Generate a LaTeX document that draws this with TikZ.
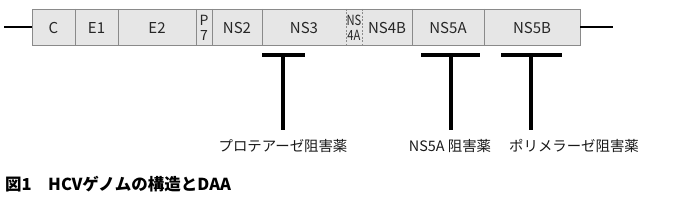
\documentclass[tikz,border=0pt]{standalone}
\usepackage{fontspec}
\setmainfont{Noto Sans CJK JP}
\definecolor{segfill}{HTML}{E6E6E6}
\definecolor{segline}{HTML}{8A8A8A}
\begin{document}
\begin{tikzpicture}[x=1pt,y=-1pt,
  seglabel/.style={font=\fontsize{15}{15}\selectfont, inner sep=0pt, text=black!85},
  smalllabel/.style={font=\fontsize{14}{14}\selectfont, inner sep=0pt, text=black!85},
  druglabel/.style={font=\fontsize{14.4}{14.4}\selectfont, inner sep=0pt, text=black!90},
  tbar/.style={line width=3.3pt},
  genomeline/.style={line width=2pt},
  divider/.style={draw=segline, line width=0.9pt},
  ]
\useasboundingbox (0,0) rectangle (690,203);
% genome box
\fill[segfill] (32,9) rectangle (580,45);
\draw[divider] (32,9) rectangle (580,45);
% dividers
\foreach \x in {75,118,196,212,262,412,484} \draw[divider] (\x,9) -- (\x,45);
\foreach \x in {346,362} \draw[divider, dash pattern=on 2pt off 1.5pt] (\x,9) -- (\x,45);
% end lines
\coordinate (lend) at (4,27.5);
\coordinate (rend) at (613,27.5);
\node[inner sep=0pt, minimum width=0pt] (boxl) at (32,27.5) {};
\node[inner sep=0pt, minimum width=0pt] (boxr) at (580,27.5) {};
\draw[genomeline] (lend) -- (boxl);
\draw[genomeline] (boxr) -- (rend);
% segment labels
\node[seglabel] (c) at (53.5,28) {C};
\node[seglabel] (e1) at (96.5,28) {E1};
\node[seglabel] (e2) at (157,28) {E2};
\node[smalllabel] (p7a) at (204,20) {P};
\node[smalllabel] (p7b) at (204,35.5) {7};
\node[seglabel] (ns2) at (237,28) {NS2};
\node[seglabel] (ns3) at (304,28) {NS3};
\node[smalllabel] (ns4aa) at (354,20) {\scalebox{0.8}[1]{NS}};
\node[smalllabel] (ns4ab) at (354,35.5) {\scalebox{0.8}[1]{4A}};
\node[seglabel] (ns4b) at (387,28) {NS4B};
\node[seglabel] (ns5a) at (448,28) {NS5A};
\node[seglabel] (ns5b) at (532,28) {NS5B};
% T shapes
\coordinate (t1l) at (262,55); \coordinate (t1r) at (305,55); \coordinate (t1) at (283,55);
\coordinate (t2l) at (421,55); \coordinate (t2r) at (480,55); \coordinate (t2) at (451,55);
\coordinate (t3l) at (501,55); \coordinate (t3r) at (562,55); \coordinate (t3) at (531,55);
\draw[tbar] (t1l) -- (t1r);
\draw[tbar] (t2l) -- (t2r);
\draw[tbar] (t3l) -- (t3r);
% drug labels
\node[druglabel] (pi) at (283,146) {プロテアーゼ阻害薬};
\node[druglabel] (nsi) at (450,146) {NS5A 阻害薬};
\node[druglabel, anchor=west] (poli) at (509,146) {ポリメラーゼ阻害薬};
\draw[tbar] (t1) -- (t1 |- 0,130);
\draw[tbar] (t2) -- (t2 |- 0,130);
\draw[tbar] (t3) -- (t3 |- 0,130);
% caption
\node[anchor=west, inner sep=0pt, font=\fontsize{16.5}{16.5}\selectfont\bfseries] (cap) at (5,184) {図1\hspace{1em}HCVゲノムの構造とDAA};
\end{tikzpicture}
\end{document}
